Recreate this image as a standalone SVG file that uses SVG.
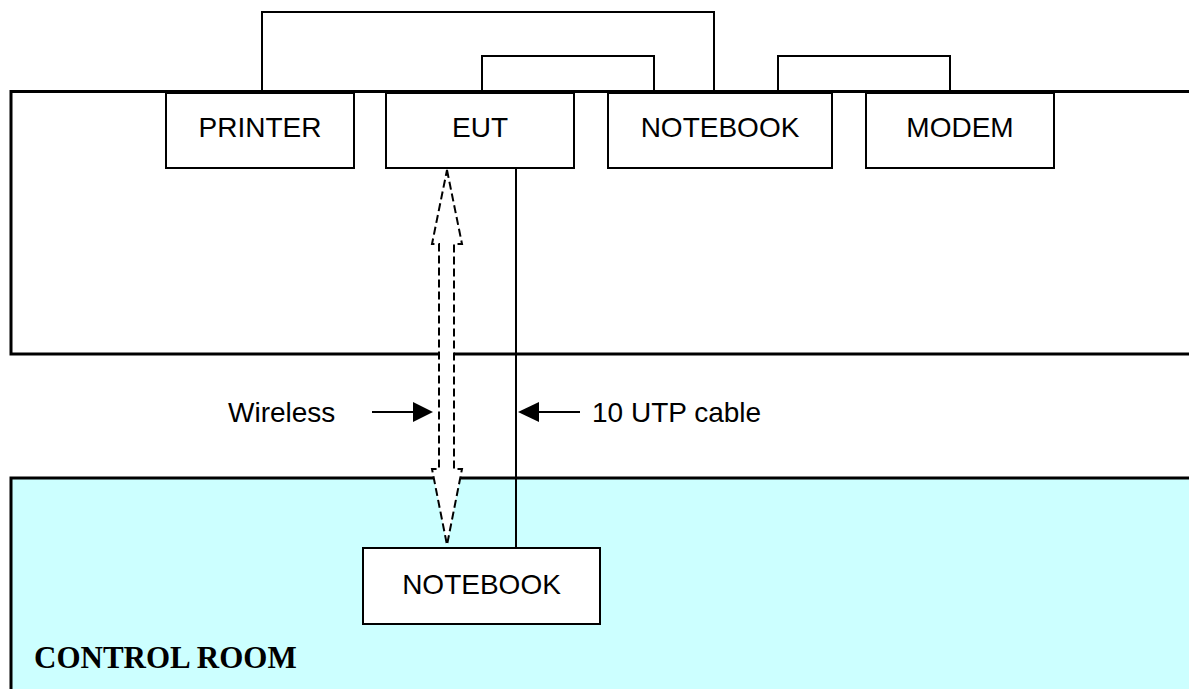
<svg xmlns="http://www.w3.org/2000/svg" width="1189" height="689" viewBox="0 0 1189 689">
<style>
.room{fill:none;stroke:#000;stroke-width:3}
.box{fill:#fff;stroke:#000;stroke-width:2}
.lbl{font-family:"Liberation Sans",Arial,sans-serif;font-size:28px;fill:#000}
.wire{fill:none;stroke:#000;stroke-width:2}
.dash{fill:#fff;stroke:#000;stroke-width:2;stroke-dasharray:8 4}
</style>
<rect width="1189" height="689" fill="#fff"/>
<g id="test-room">
<rect class="room" x="11" y="91.5" width="1200" height="262.5"/>
</g>
<g id="control-room">
<rect x="11" y="478" width="1200" height="230" fill="#CCFFFF" stroke="#000" stroke-width="3"/>
<text x="34" y="668" font-family="'Liberation Serif','Times New Roman',serif" font-weight="bold" font-size="31" fill="#000">CONTROL ROOM</text>
</g>
<g id="connectors">
<polyline class="wire" points="262,91 262,12 714,12 714,91"/>
<polyline class="wire" points="482,91 482,56 654,56 654,91"/>
<polyline class="wire" points="778,91 778,56 950,56 950,91"/>
<line class="wire" x1="516" y1="168" x2="516" y2="548"/>
<path class="dash" d="M447,170 L462,244 L454,244 L454,469 L462,469 L447,545 L432,469 L439,469 L439,244 L432,244 Z"/>
<line class="wire" x1="372" y1="412" x2="414" y2="412"/>
<polygon points="413,402 433,412 413,422" fill="#000"/>
<line class="wire" x1="538" y1="412" x2="580" y2="412"/>
<polygon points="518,412 539,402 539,422" fill="#000"/>
</g>
<g id="printer">
<rect class="box" x="166" y="93" width="188" height="75"/>
<text class="lbl" x="260" y="137" text-anchor="middle">PRINTER</text>
</g>
<g id="eut">
<rect class="box" x="386" y="93" width="188" height="75"/>
<text class="lbl" x="480" y="137" text-anchor="middle">EUT</text>
</g>
<g id="notebook-top">
<rect class="box" x="608" y="93" width="224" height="75"/>
<text class="lbl" x="720" y="137" text-anchor="middle">NOTEBOOK</text>
</g>
<g id="modem">
<rect class="box" x="866" y="93" width="188" height="75"/>
<text class="lbl" x="960" y="137" text-anchor="middle">MODEM</text>
</g>
<g id="notebook-bottom">
<rect class="box" x="363" y="548" width="237" height="76"/>
<text class="lbl" x="481.5" y="594" text-anchor="middle">NOTEBOOK</text>
</g>
<g id="labels">
<text class="lbl" x="228" y="422">Wireless</text>
<text class="lbl" x="592" y="422">10 UTP cable</text>
</g>
</svg>
